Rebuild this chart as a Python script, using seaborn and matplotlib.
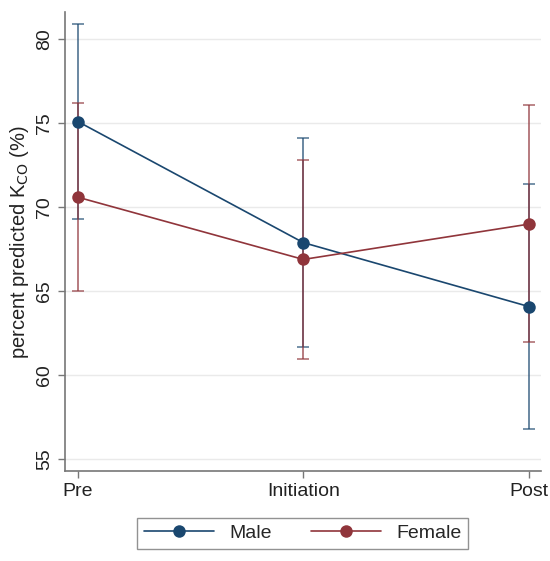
import pandas as pd
import numpy as np
import matplotlib.pyplot as plt
import seaborn as sns

sns.set_theme(style="white")
plt.rcParams['font.family'] = ['Liberation Sans', 'DejaVu Sans']

# Data
phases = ['Pre', 'Initiation', 'Post']
male_mean = [75.1, 67.9, 64.1]
male_low = [69.3, 61.7, 56.8]
male_high = [80.9, 74.1, 71.4]
female_mean = [70.6, 66.9, 69.0]
female_low = [65.0, 61.0, 62.0]
female_high = [76.2, 72.8, 76.1]

colors = {'Male': '#1a476f', 'Female': '#90353b'}

df = pd.DataFrame({
    'phase': phases * 2,
    'pos': list(range(len(phases))) * 2,
    'value': male_mean + female_mean,
    'low': male_low + female_low,
    'high': male_high + female_high,
    'sex': ['Male'] * 3 + ['Female'] * 3,
})

fig = plt.figure(figsize=(5.5, 5.61), dpi=100)
ax = fig.add_axes([0.118, 0.160, 0.865, 0.818])

ax.grid(axis='y', color='#eaeaea', linewidth=1.0)
ax.set_axisbelow(True)

# error bars (confidence intervals)
for sex, grp in df.groupby('sex', sort=False):
    ax.errorbar(grp['pos'], grp['value'],
                yerr=[grp['value'] - grp['low'], grp['high'] - grp['value']],
                fmt='none', ecolor=colors[sex], elinewidth=1.3, capsize=4,
                capthick=1.2, alpha=0.7, zorder=2)

sns.lineplot(data=df, x='pos', y='value', hue='sex', palette=colors,
             marker='o', markersize=9, markeredgewidth=0, linewidth=1.2,
             ax=ax, zorder=3, legend=False)

ax.set_xlim(-0.058, 2.053)
ax.set_ylim(54.3, 81.6)
ax.set_xticks(range(len(phases)))
ax.set_xticklabels(phases)
ax.set_yticks([55, 60, 65, 70, 75, 80])
ax.tick_params(axis='both', direction='out', length=5, width=1,
               color='#777777', labelsize=14, labelcolor='#222222',
               left=True, bottom=True)
for lbl in ax.get_yticklabels():
    lbl.set_rotation(90)
    lbl.set_va('center')
ax.set_xlabel('')
ax.set_ylabel(r'percent predicted K$_{\mathrm{CO}}$ (%)', fontsize=14.5,
              color='#222222', labelpad=4)

for side in ['top', 'right']:
    ax.spines[side].set_visible(False)
for side in ['left', 'bottom']:
    ax.spines[side].set_color('#777777')
    ax.spines[side].set_linewidth(1.2)

handles = [plt.Line2D([], [], color=colors[s], marker='o', markersize=9,
                      markeredgewidth=0, linewidth=1.2) for s in ['Male', 'Female']]
leg = ax.legend(handles, ['Male', 'Female'], loc='upper center',
                bbox_to_anchor=(0.5, -0.08), ncol=2, frameon=True,
                fancybox=False, edgecolor='#777777', fontsize=14,
                handlelength=3.6, columnspacing=2.0, borderpad=0.35)
leg.get_frame().set_linewidth(1.0)

fig.savefig('out.png', dpi=100, facecolor='white')
